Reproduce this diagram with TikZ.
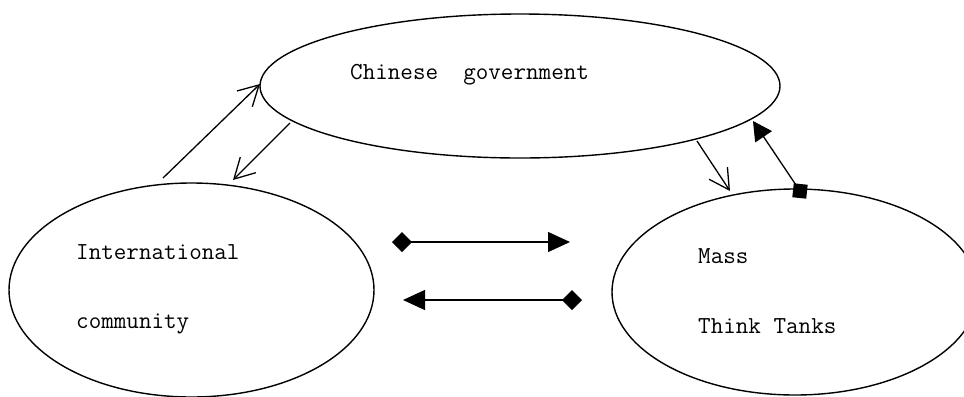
\documentclass[tikz,border=0pt]{standalone}
\usepackage{fontspec}
\usetikzlibrary{shapes.geometric,arrows.meta}
\tikzset{
  blob/.style={ellipse, draw=black, line width=1.4bp, inner sep=0pt},
  lbl/.style={anchor=base west, inner sep=0pt, font=\ttfamily\fontsize{24.4bp}{28bp}\selectfont},
  conn/.style={line width=1.3bp, draw=black},
  openhead/.style={conn, -{Straight Barb[length=20bp,width=22bp,line width=1.3bp]}},
  fillhead/.style={conn, -{Triangle[length=19bp,width=20bp]}},
  diahead/.style={conn, {Diamond[length=20bp,width=20bp]}-{Triangle[length=22bp,width=20bp]}},
  sqmark/.style={rectangle, fill=black, inner sep=0pt, minimum size=14bp, rotate=-6}
}
\begin{document}
\begin{tikzpicture}[x=1bp,y=-1bp]
\clip (0,0) rectangle (964,396);
\fill[white] (0,0) rectangle (964,396);
% ellipses
\node[blob, minimum width=520bp, minimum height=144bp] (cg) at (520,86) {};
\node[blob, minimum width=365bp, minimum height=214bp] (ic) at (191.5,290) {};
\node[blob, minimum width=366bp, minimum height=206bp] (mt) at (795,292) {};
% texts
\node[lbl] (cgt) at (350,79) {Chinese\ \ government};
\node[lbl] (ict1) at (76,259) {International};
\node[lbl] (ict2) at (76,328) {community};
\node[lbl] (mtt1) at (698,263) {Mass};
\node[lbl] (mtt2) at (698,333) {Think Tanks};
% connector end points
\coordinate (p1s) at (163,178);
\coordinate (p1e) at (260,84);
\coordinate (p2s) at (290,123);
\coordinate (p2e) at (233,180);
\coordinate (p3s) at (697,141);
\coordinate (p3e) at (730,191);
\node[sqmark] (sq) at (800,191) {};
\coordinate (p4e) at (753,121);
\coordinate (h1s) at (392,242);
\coordinate (h1e) at (570,242);
\coordinate (h2s) at (582,300);
\coordinate (h2e) at (403,300);
% connectors
\draw[openhead] (p1s) -- (p1e);
\draw[openhead] (p2s) -- (p2e);
\draw[openhead] (p3s) -- (p3e);
\draw[fillhead] (sq.center) -- (p4e);
\draw[diahead] (h1s) -- (h1e);
\draw[diahead] (h2s) -- (h2e);
\end{tikzpicture}
\end{document}
